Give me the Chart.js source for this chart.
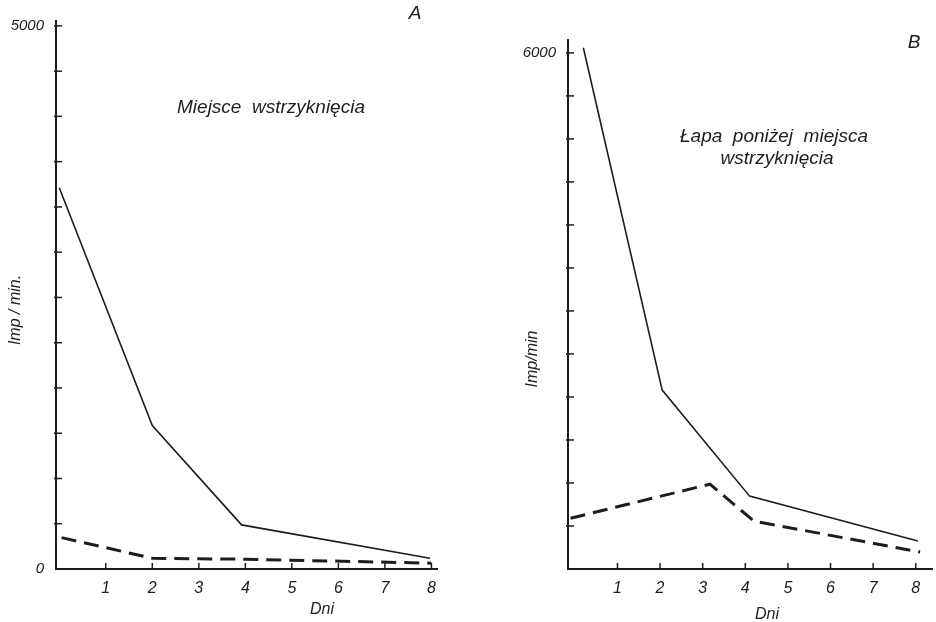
<!DOCTYPE html>
<html>
<head>
<meta charset="utf-8">
<script src="https://cdn.jsdelivr.net/npm/chart.js@4"></script>
<style>
  body { margin: 0; background: #fff; }
  .wrap { position: relative; width: 936px; height: 622px; }
  .panel { position: absolute; top: 0; height: 622px; }
</style>
</head>
<body>
<div class="wrap">
  <div class="panel" style="left:0;width:470px"><canvas id="chartA"></canvas></div>
  <div class="panel" style="left:470px;width:466px"><canvas id="chartB"></canvas></div>
</div>
<script>
// A: Miejsce wstrzykniecia
const daysA1 = [0, 2, 3.92, 7.97];
const impA1 = [3510, 1320, 406, 99];
const daysA2 = [0.05, 2, 4, 8];
const impA2 = [289, 99, 90, 54];

// B: Lapa ponizej miejsca wstrzykniecia
const daysB1 = [0.2, 2.05, 4.1, 8.05];
const impB1 = [6060, 2080, 847, 325];
const daysB2 = [-0.1, 3.17, 4.2, 8.1];
const impB2 = [590, 986, 557, 197];

const dayTicks = [1, 2, 3, 4, 5, 6, 7, 8];
const yTicksA = [0, 417, 833, 1250, 1667, 2083, 2500, 2917, 3333, 3750, 4167, 4583, 5000];
const yTicksB = [0, 500, 1000, 1500, 2000, 2500, 3000, 3500, 4000, 4500, 5000, 5500, 6000];

const ink = '#1d1d1d';
const font = 'italic 16px "Liberation Sans", sans-serif';

function pts(xs, ys) {
    return xs.map((x, i) => ({ x: x, y: ys[i] }));
}

function decor(cfg) {
    return {
        id: 'decor',
        afterDraw(chart) {
            const c = chart.ctx;
            const xs = chart.scales.x, ys = chart.scales.y;
            c.save();
            c.strokeStyle = ink;
            c.lineWidth = 1.5;
            // inner tick marks
            ys.ticks.forEach(t => {
                if (t.value === 0) return;
                const y = ys.getPixelForValue(t.value);
                c.beginPath();
                c.moveTo(xs.left - 2, y);
                c.lineTo(xs.left + 6, y);
                c.stroke();
            });
            xs.ticks.forEach(t => {
                const x = xs.getPixelForValue(t.value);
                c.beginPath();
                c.moveTo(x, ys.bottom);
                c.lineTo(x, ys.bottom - 6);
                c.stroke();
            });
            // texts
            c.fillStyle = ink;
            c.textAlign = 'center';
            c.textBaseline = 'middle';
            c.font = 'italic 19px "Liberation Sans", sans-serif';
            cfg.texts.forEach(t => c.fillText(t[0], t[1], t[2]));
            c.font = font;
            c.fillText(cfg.xTitle[0], cfg.xTitle[1], cfg.xTitle[2]);
            c.translate(cfg.yTitle[1], cfg.yTitle[2]);
            c.rotate(-Math.PI / 2);
            c.fillText(cfg.yTitle[0], 0, 0);
            c.restore();
        }
    };
}

function makeChart(id, cfg) {
    return new Chart(document.getElementById(id), {
        type: 'line',
        data: {
            datasets: [{
                data: pts(cfg.d1, cfg.v1),
                borderColor: ink,
                borderWidth: 1.6,
                pointRadius: 0
            }, {
                data: pts(cfg.d2, cfg.v2),
                borderColor: ink,
                borderWidth: 3,
                borderDash: [15, 8],
                pointRadius: 0
            }]
        },
        options: {
            responsive: true,
            maintainAspectRatio: false,
            animation: false,
            layout: { padding: cfg.padding },
            plugins: {
                legend: { display: false },
                tooltip: { enabled: false }
            },
            scales: {
                x: {
                    type: 'linear',
                    min: cfg.xMin,
                    max: cfg.xMax,
                    afterBuildTicks: s => { s.ticks = dayTicks.map(v => ({ value: v })); },
                    afterFit: s => { s.height = 53; },
                    grid: { display: false, drawTicks: false },
                    border: { color: ink, width: 2 },
                    ticks: {
                        color: ink,
                        font: { family: '"Liberation Sans", sans-serif', size: 16, style: 'italic' },
                        padding: 10,
                        autoSkip: false,
                        maxRotation: 0
                    }
                },
                y: {
                    min: 0,
                    max: cfg.yMax,
                    afterBuildTicks: s => { s.ticks = cfg.yTicks.map(v => ({ value: v })); },
                    afterFit: s => { s.width = cfg.yWidth; },
                    grid: { display: false, drawTicks: false },
                    border: { color: ink, width: 2 },
                    ticks: {
                        color: ink,
                        font: { family: '"Liberation Sans", sans-serif', size: 15, style: 'italic' },
                        padding: 12,
                        autoSkip: false,
                        callback: v => cfg.yLabels.includes(v) ? String(v) : ''
                    }
                }
            }
        },
        plugins: [decor(cfg)]
    });
}

makeChart('chartA', {
    d1: daysA1, v1: impA1, d2: daysA2, v2: impA2,
    xMin: -0.07, xMax: 8.12, yMax: 5045,
    yTicks: yTicksA, yLabels: [0, 5000], yWidth: 50,
    padding: { left: 6, right: 33, top: 10, bottom: 0 },
    texts: [['A', 415, 14], ['Miejsce  wstrzyknięcia', 271, 108]],
    xTitle: ['Dni', 322, 610],
    yTitle: ['Imp / min.', 16, 310]
});

makeChart('chartB', {
    d1: daysB1, v1: impB1, d2: daysB2, v2: impB2,
    xMin: -0.16, xMax: 8.38, yMax: 6150,
    yTicks: yTicksB, yLabels: [6000], yWidth: 98,
    padding: { left: 0, right: 4, top: 40, bottom: 0 },
    texts: [['B', 444, 43], ['Łapa  poniżej  miejsca', 304, 137], ['wstrzyknięcia', 307, 159]],
    xTitle: ['Dni', 297, 615],
    yTitle: ['Imp/min', 63, 359]
});
</script>
</body>
</html>
